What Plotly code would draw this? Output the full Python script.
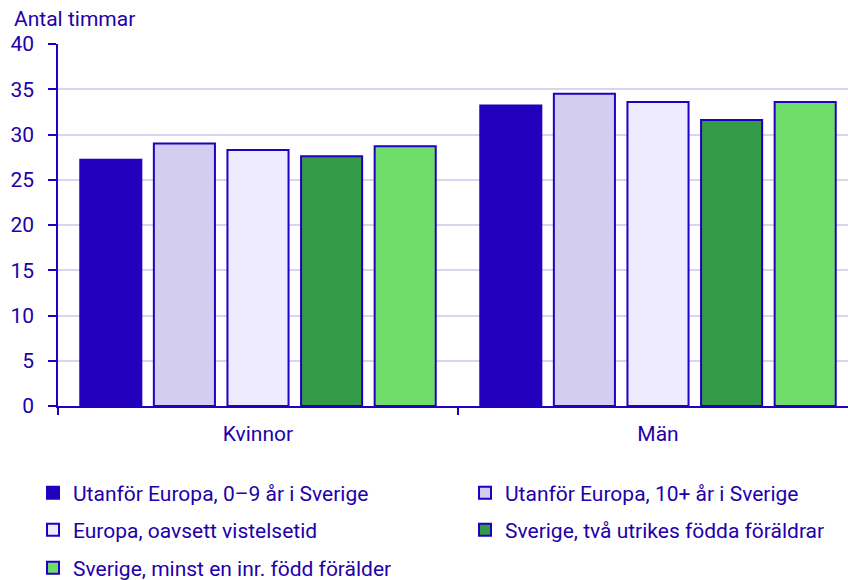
import plotly.graph_objects as go

categories = ["Kvinnor", "Män"]
series_names = [
    "Utanför Europa, 0–9 år i Sverige",
    "Utanför Europa, 10+ år i Sverige",
    "Europa, oavsett vistelsetid",
    "Sverige, två utrikes födda föräldrar",
    "Sverige, minst en inr. född förälder",
]
values_utanfor_0_9 = [27.2, 33.2]
values_utanfor_10 = [29.0, 34.5]
values_europa = [28.3, 33.6]
values_sverige_utr = [27.6, 31.6]
values_sverige_inr = [28.7, 33.6]
y_ticks = [0, 5, 10, 15, 20, 25, 30, 35, 40]

all_values = [values_utanfor_0_9, values_utanfor_10, values_europa, values_sverige_utr, values_sverige_inr]
colors = ["#2200BE", "#D3CEF1", "#EDEBFD", "#339A47", "#6FDD6A"]
legend_ids = ["legend", "legend2", "legend3", "legend4", "legend5"]
legend_pos = [(33, 493), (465, 493), (33, 530), (465, 530), (33, 568)]
text_color = "#2200AA"
outline = "#2200C0"
font_family = "Roboto, Arial, sans-serif"
FS = 21

fig = go.Figure()
for name, vals, col, lg in zip(series_names, all_values, colors, legend_ids):
    fig.add_trace(go.Bar(
        x=categories, y=vals, name=name, legend=lg, showlegend=True,
        marker=dict(color=col, line=dict(color=outline, width=2)),
    ))

W, H = 848.0, 580.0
def leg(px, py):
    return dict(
        orientation="h", xref="container", yref="container",
        x=px / W, y=(H - py) / H, xanchor="left", yanchor="middle",
        font=dict(size=FS, color=text_color, family=font_family),
        itemwidth=30, bgcolor="rgba(0,0,0,0)",
    )

legends = {("legend" if i == 0 else f"legend{i+1}"): leg(*p) for i, p in enumerate(legend_pos)}

fig.update_layout(
    width=848, height=580,
    showlegend=True,
    margin=dict(l=58, r=0, t=44, b=174, autoexpand=False),
    paper_bgcolor="white", plot_bgcolor="white",
    barmode="group", bargap=0.08, bargroupgap=0.17,
    font=dict(family=font_family, color=text_color, size=FS),
    xaxis=dict(
        range=[-0.5, 1.475], showline=True, linecolor=outline, linewidth=1.5,
        ticks="outside", tickson="boundaries", tickcolor=outline, ticklen=7, tickwidth=1.5,
        tickfont=dict(size=FS, color=text_color), ticklabelstandoff=8,
        showgrid=False, automargin=False,
    ),
    yaxis=dict(
        range=[0, 40], tickvals=y_ticks, showline=True, linecolor=outline, linewidth=1.5,
        ticks="outside", tickcolor=outline, ticklen=8, tickwidth=1.5,
        gridcolor="#D8D5F1", gridwidth=2, ticklabelstandoff=10,
        tickfont=dict(size=FS, color=text_color), zeroline=False, automargin=False,
    ),
    annotations=[
        dict(text="Antal timmar", xref="paper", yref="paper", x=(12 - 58) / 790, y=1 + 25 / 362,
             xanchor="left", yanchor="middle", showarrow=False,
             font=dict(size=FS, color=text_color)),
    ],
    **legends,
)

fig.write_html("out.html", config={"displayModeBar": False},
               post_script="document.body.style.margin='0';")
